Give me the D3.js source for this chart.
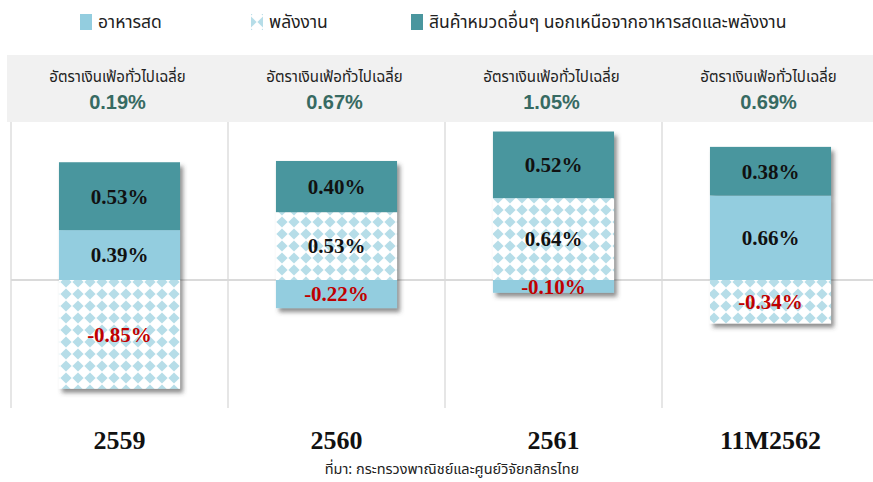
<!DOCTYPE html>
<html>
<head>
<meta charset="utf-8">
<script src="https://cdn.jsdelivr.net/npm/d3@7"></script>
<style>
  body { margin: 0; background: #fff; }
  svg { display: block; }
</style>
</head>
<body>
<div id="chart"></div>
<script>
// ข้อมูลของกราฟ
const categories = ["2559", "2560", "2561", "11M2562"];
const food = [0.39, -0.22, -0.10, 0.66];
const energy = [-0.85, 0.53, 0.64, -0.34];
const other = [0.53, 0.40, 0.52, 0.38];
const headline = ["0.19%", "0.67%", "1.05%", "0.69%"];

const seriesNames = ["อาหารสด", "พลังงาน", "สินค้าหมวดอื่นๆ นอกเหนือจากอาหารสดและพลังงาน"];
const headerTitle = "อัตราเงินเฟ้อทั่วไปเฉลี่ย";
const sourceText = "ที่มา: กระทรวงพาณิชย์และศูนย์วิจัยกสิกรไทย";

const W = 873, H = 482;
const thaiFont = "'Noto Sans Thai', 'Noto Sans', 'DejaVu Sans', sans-serif";
const serifFont = "'Liberation Serif', 'Times New Roman', serif";

const svg = d3.select("#chart").append("svg")
  .attr("width", W).attr("height", H);

const defs = svg.append("defs");

// ลายข้าวหลามตัดของหมวดพลังงาน
function makePattern(id, ox, oy) {
  const pat = defs.append("pattern")
    .attr("id", id)
    .attr("patternUnits", "userSpaceOnUse")
    .attr("x", ox).attr("y", oy)
    .attr("width", 12).attr("height", 12);
  pat.append("rect").attr("width", 12).attr("height", 12).attr("fill", "#ffffff");
  pat.append("path")
    .attr("d", "M6,0.4 L11.6,6 L6,11.6 L0.4,6 Z")
    .attr("fill", "#b6dde8");
}
makePattern("diamond", 0, 0);
makePattern("diamond-legend", 6, 2);

// เงาของแท่ง
const f = defs.append("filter").attr("id", "shadow")
  .attr("x", "-10%").attr("y", "-10%").attr("width", "130%").attr("height", "130%");
f.append("feDropShadow")
  .attr("dx", 3).attr("dy", 4).attr("stdDeviation", 2)
  .attr("flood-color", "#444").attr("flood-opacity", 0.6);

const colors = ["#93cddf", "url(#diamond)", "#4a969e"];
const legendColors = ["#93cddf", "url(#diamond-legend)", "#4a969e"];

// สเกล
const colScale = d3.scaleBand().domain(categories).range([11, 879]).paddingInner(0);
const barScale = d3.scaleBand().domain(categories).range([11, 879]).paddingInner(0.442).paddingOuter(0.221);
const y = d3.scaleLinear().domain([-1, 1.2]).range([408, 126.4]);

// แถบหัวสีเทา
svg.append("rect")
  .attr("x", 7).attr("y", 55).attr("width", W - 7).attr("height", 67)
  .attr("fill", "#f1f1f1");

// เส้นแบ่งคอลัมน์
svg.append("g").selectAll("line")
  .data(categories.concat(["end"]))
  .join("line")
  .attr("x1", (d, i) => i < categories.length ? colScale(d) : colScale(categories[i - 1]) + colScale.bandwidth())
  .attr("x2", (d, i) => i < categories.length ? colScale(d) : colScale(categories[i - 1]) + colScale.bandwidth())
  .attr("y1", 122).attr("y2", y(-1))
  .attr("stroke", "#dedede").attr("stroke-width", 1.5);

// เส้นศูนย์
svg.append("line")
  .attr("x1", 11).attr("x2", W)
  .attr("y1", y(0)).attr("y2", y(0))
  .attr("stroke", "#dadada").attr("stroke-width", 2);

// คำนวณการซ้อนแท่ง (บวกขึ้น ลบลง)
const segments = [];
categories.forEach((c, i) => {
  let pos = 0, neg = 0;
  [food[i], energy[i], other[i]].forEach((v, s) => {
    let y0, y1;
    if (v >= 0) { y0 = pos; y1 = pos + v; pos = y1; }
    else { y0 = neg; y1 = neg + v; neg = y1; }
    segments.push({cat: c, s: s, v: v, y0: y0, y1: y1});
  });
});

const barGroups = svg.append("g").selectAll("g")
  .data(categories)
  .join("g")
  .attr("filter", "url(#shadow)");

barGroups.selectAll("rect")
  .data(c => segments.filter(d => d.cat === c))
  .join("rect")
  .attr("x", d => barScale(d.cat))
  .attr("width", barScale.bandwidth())
  .attr("y", d => y(Math.max(d.y0, d.y1)))
  .attr("height", d => Math.abs(y(d.y0) - y(d.y1)))
  .attr("fill", d => colors[d.s]);

// ป้ายค่าในแท่ง
svg.append("g").selectAll("text")
  .data(segments)
  .join("text")
  .attr("x", d => barScale(d.cat) + barScale.bandwidth() / 2)
  .attr("y", d => y((d.y0 + d.y1) / 2))
  .attr("dy", "0.35em")
  .attr("text-anchor", "middle")
  .attr("font-family", serifFont)
  .attr("font-weight", "bold")
  .attr("font-size", 21)
  .attr("fill", d => d.v < 0 ? "#c00000" : "#111")
  .text(d => d.v.toFixed(2) + "%");

// หัวคอลัมน์
const heads = svg.append("g").selectAll("g")
  .data(categories)
  .join("g")
  .attr("transform", d => `translate(${colScale(d) + colScale.bandwidth() / 2 - 2},0)`);
heads.append("text")
  .attr("y", 82).attr("text-anchor", "middle")
  .attr("font-family", thaiFont).attr("font-size", 15).attr("fill", "#222")
  .text(headerTitle);
heads.append("text")
  .attr("y", 109).attr("text-anchor", "middle")
  .attr("font-family", "'Liberation Sans', Arial, sans-serif")
  .attr("font-weight", "bold").attr("font-size", 20).attr("fill", "#376a62")
  .text((d, i) => headline[i]);

// ป้ายปี
svg.append("g").selectAll("text")
  .data(categories)
  .join("text")
  .attr("x", d => colScale(d) + colScale.bandwidth() / 2)
  .attr("y", 449)
  .attr("text-anchor", "middle")
  .attr("font-family", serifFont).attr("font-weight", "bold")
  .attr("font-size", 26).attr("fill", "#111")
  .text(d => d);

// ที่มา
svg.append("text")
  .attr("x", 452).attr("y", 474).attr("text-anchor", "middle")
  .attr("font-family", thaiFont).attr("font-size", 14.5).attr("fill", "#222")
  .text(sourceText);

// คำอธิบายสัญลักษณ์
const legendX = [80, 251, 411];
const legend = svg.append("g").selectAll("g")
  .data(seriesNames)
  .join("g")
  .attr("transform", (d, i) => `translate(${legendX[i]},14)`);
legend.append("rect")
  .attr("width", 12).attr("height", 16)
  .attr("fill", (d, i) => legendColors[i]);
legend.append("text")
  .attr("x", 18).attr("y", 14)
  .attr("font-family", thaiFont).attr("font-size", 17.5).attr("fill", "#222")
  .text(d => d);
</script>
</body>
</html>
